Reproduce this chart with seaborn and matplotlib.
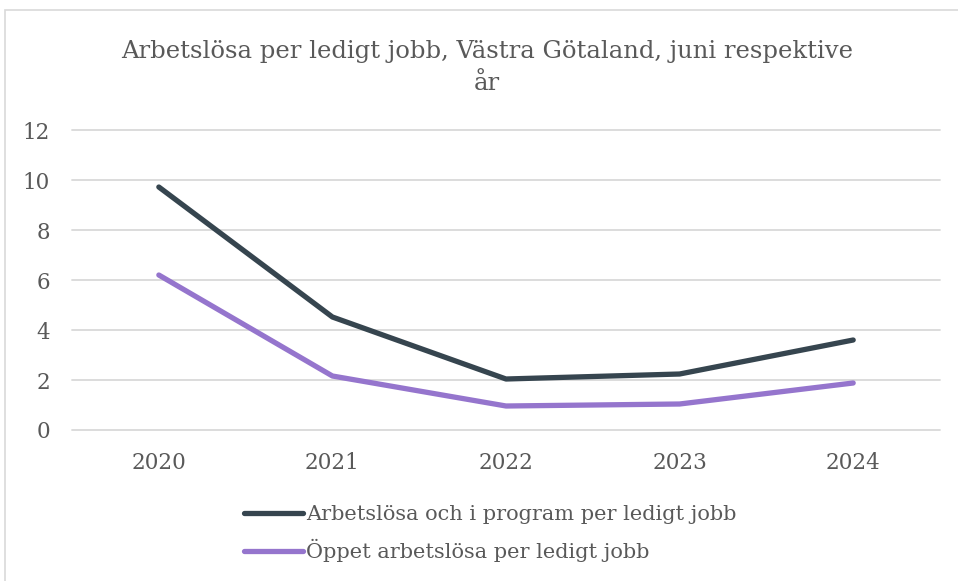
import matplotlib
matplotlib.use("Agg")
import matplotlib.pyplot as plt
import pandas as pd
import seaborn as sns
from matplotlib.patches import Rectangle

# Data
years = ["2020", "2021", "2022", "2023", "2024"]
arbetslosa_program = [9.72, 4.52, 2.04, 2.24, 3.6]
oppet_arbetslosa = [6.2, 2.16, 0.96, 1.04, 1.88]
series_names = ["Arbetslösa och i program per ledigt jobb", "Öppet arbetslösa per ledigt jobb"]
y_ticks = [0, 2, 4, 6, 8, 10, 12]

df = pd.DataFrame({
    "year": years * 2,
    "value": arbetslosa_program + oppet_arbetslosa,
    "serie": [series_names[0]] * len(years) + [series_names[1]] * len(years),
})

sns.set_style("white")
plt.rcParams["font.family"] = ["DejaVu Serif"]
text_color = "#595959"

fig = plt.figure(figsize=(9.58, 5.81), dpi=100)
ax = fig.add_axes([0.0752, 0.2599, 0.906, 0.5163])

sns.lineplot(data=df, x="year", y="value", hue="serie", ax=ax,
             palette=["#36454F", "#9575CD"], linewidth=3.8,
             solid_capstyle="round", legend=False)

ax.set_ylim(0, 12)
ax.set_xlim(-0.5, 4.5)
ax.set_yticks(y_ticks)
ax.yaxis.grid(True, color="#d9d9d9", linewidth=1.3)
for gl in ax.get_ygridlines():
    gl.set_clip_on(False)
ax.set_axisbelow(True)
for s in ax.spines.values():
    s.set_visible(False)
ax.set_xlabel("")
ax.set_ylabel("")
ax.tick_params(axis="both", length=0, labelsize=15.5, colors=text_color)
ax.tick_params(axis="y", pad=16)
ax.tick_params(axis="x", pad=16)

fig.text(0.508, 0.883, "Arbetslösa per ledigt jobb, Västra Götaland, juni respektive\når",
         ha="center", va="center", fontsize=17.5, color=text_color, linespacing=1.5)

handles = [plt.Line2D([], [], color=c, linewidth=3.8, solid_capstyle="round")
           for c in ["#36454F", "#9575CD"]]
fig.legend(handles, series_names, loc="upper left", bbox_to_anchor=(0.255, 0.13),
           frameon=False, fontsize=15, labelcolor=text_color,
           handlelength=2.8, handletextpad=0.15, labelspacing=0.7,
           borderaxespad=0, borderpad=0)

fig.patches.append(Rectangle((5 / 958, -0.01), 1.0, 1 - 10 / 581 + 0.01,
                             transform=fig.transFigure, fill=False,
                             edgecolor="#d9d9d9", linewidth=1.2))

fig.savefig("out.png", dpi=100)
